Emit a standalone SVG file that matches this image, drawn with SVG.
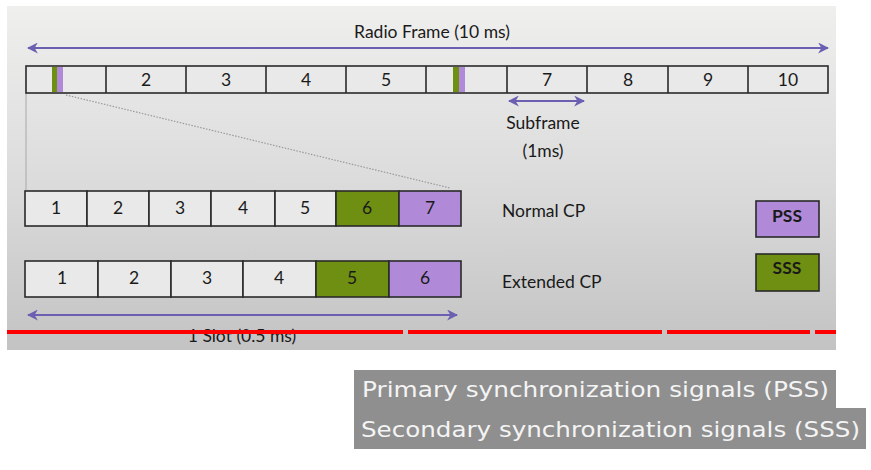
<svg xmlns="http://www.w3.org/2000/svg" width="871" height="470" viewBox="0 0 871 470">
<defs>
<linearGradient id="bg" x1="0" y1="0" x2="0" y2="1">
<stop offset="0" stop-color="#efefee"/>
<stop offset="0.5" stop-color="#dcdcdc"/>
<stop offset="1" stop-color="#c3c3c3"/>
</linearGradient>
<marker id="ah" viewBox="0 0 10 10" refX="9" refY="5" markerWidth="5.5" markerHeight="5.5" orient="auto-start-reverse" markerUnits="strokeWidth">
<path d="M0,0 L10,5 L0,10 L3,5 z" fill="#6a5fb0"/>
</marker>
<style>
.cell{fill:#e9e9e9;stroke:#2a2a2a;stroke-width:1.6}
.cellg{fill:#6f8f12;stroke:#2a2a2a;stroke-width:1.6}
.cellp{fill:#b08ad8;stroke:#2a2a2a;stroke-width:1.6}
.t{font-family:Lato,"Open Sans",sans-serif;font-size:17.5px;fill:#1a1a1a;text-anchor:middle}
.tl{font-family:Lato,"Open Sans",sans-serif;font-size:17.5px;fill:#1a1a1a}
.arr{stroke:#6a5fb0;stroke-width:2;fill:none;marker-start:url(#ah);marker-end:url(#ah)}
.band{fill:#8f8f8f}
.bt{font-family:"DejaVu Sans",Verdana,sans-serif;font-size:21px;fill:#f4f4f4}
.red{stroke:#ff0000;stroke-width:4}
</style>
</defs>
<rect x="7" y="6" width="829" height="344" fill="url(#bg)"/>

<g id="connectors">
<line class="arr" x1="28" y1="48" x2="828" y2="48"/>
<line class="arr" x1="509" y1="101" x2="584" y2="101"/>
<line class="arr" x1="28" y1="315" x2="457" y2="315"/>
<line x1="26" y1="93" x2="26" y2="190" stroke="#a8a8a8" stroke-width="1"/>
<line x1="66" y1="95" x2="450" y2="188" stroke="#9a9a9a" stroke-width="1.2" stroke-dasharray="1.5,1.5"/>
</g>

<g id="radio-frame">
<text class="t" x="432" y="38">Radio Frame (10 ms)</text>
<rect class="cell" x="26" y="66" width="802" height="27"/>
<g stroke="#2a2a2a" stroke-width="1.6">
<line x1="106" y1="66" x2="106" y2="93"/>
<line x1="186" y1="66" x2="186" y2="93"/>
<line x1="266" y1="66" x2="266" y2="93"/>
<line x1="346" y1="66" x2="346" y2="93"/>
<line x1="426" y1="66" x2="426" y2="93"/>
<line x1="507" y1="66" x2="507" y2="93"/>
<line x1="587" y1="66" x2="587" y2="93"/>
<line x1="668" y1="66" x2="668" y2="93"/>
<line x1="748" y1="66" x2="748" y2="93"/>
</g>
<rect x="52" y="67" width="5" height="25" fill="#6f8f12"/>
<rect x="57" y="67" width="6" height="25" fill="#b08ad8"/>
<rect x="453" y="67" width="6" height="25" fill="#6f8f12"/>
<rect x="459" y="67" width="6" height="25" fill="#b08ad8"/>
<text class="t" x="146" y="86">2</text>
<text class="t" x="226" y="86">3</text>
<text class="t" x="306" y="86">4</text>
<text class="t" x="386" y="86">5</text>
<text class="t" x="547" y="86">7</text>
<text class="t" x="628" y="86">8</text>
<text class="t" x="708" y="86">9</text>
<text class="t" x="788" y="86">10</text>
<text class="t" x="543" y="129">Subframe</text>
<text class="t" x="543" y="157">(1ms)</text>
</g>

<g id="normal-cp">
<rect class="cell" x="25" y="191" width="62" height="35"/>
<rect class="cell" x="87" y="191" width="62" height="35"/>
<rect class="cell" x="149" y="191" width="62" height="35"/>
<rect class="cell" x="211" y="191" width="64" height="35"/>
<rect class="cell" x="275" y="191" width="61" height="35"/>
<rect class="cellg" x="336" y="191" width="63" height="35"/>
<rect class="cellp" x="399" y="191" width="62" height="35"/>
<text class="t" x="56" y="214">1</text>
<text class="t" x="118" y="214">2</text>
<text class="t" x="180" y="214">3</text>
<text class="t" x="243" y="214">4</text>
<text class="t" x="305" y="214">5</text>
<text class="t" x="367" y="214">6</text>
<text class="t" x="430" y="214">7</text>
<text class="tl" x="502" y="217">Normal CP</text>
</g>

<g id="extended-cp">
<rect class="cell" x="25" y="261" width="73" height="36"/>
<rect class="cell" x="98" y="261" width="73" height="36"/>
<rect class="cell" x="171" y="261" width="72" height="36"/>
<rect class="cell" x="243" y="261" width="73" height="36"/>
<rect class="cellg" x="316" y="261" width="73" height="36"/>
<rect class="cellp" x="389" y="261" width="72" height="36"/>
<text class="t" x="62" y="284">1</text>
<text class="t" x="134" y="284">2</text>
<text class="t" x="207" y="284">3</text>
<text class="t" x="279" y="284">4</text>
<text class="t" x="352" y="284">5</text>
<text class="t" x="425" y="284">6</text>
<text class="tl" x="502" y="288">Extended CP</text>
<text class="t" x="242" y="342">1 Slot (0.5 ms)</text>
</g>

<g id="legend-pss">
<rect class="cellp" x="756" y="201" width="63" height="36"/>
<text class="t" x="787" y="222" font-weight="bold">PSS</text>
</g>
<g id="legend-sss">
<rect class="cellg" x="756" y="254" width="63" height="37"/>
<text class="t" x="787" y="274" font-weight="bold">SSS</text>
</g>

<g id="red-line">
<line class="red" x1="7" y1="332" x2="403" y2="332"/>
<line class="red" x1="408" y1="332" x2="662" y2="332"/>
<line class="red" x1="667" y1="332" x2="810" y2="332"/>
<line class="red" x1="815" y1="332" x2="836" y2="332"/>
</g>

<g id="caption-pss">
<rect class="band" x="354" y="370" width="482" height="38"/>
<text class="bt" x="362" y="397" textLength="467" lengthAdjust="spacingAndGlyphs">Primary synchronization signals (PSS)</text>
</g>
<g id="caption-sss">
<rect class="band" x="354" y="408" width="512" height="41"/>
<text class="bt" x="361" y="437" textLength="499" lengthAdjust="spacingAndGlyphs">Secondary synchronization signals (SSS)</text>
</g>
</svg>
